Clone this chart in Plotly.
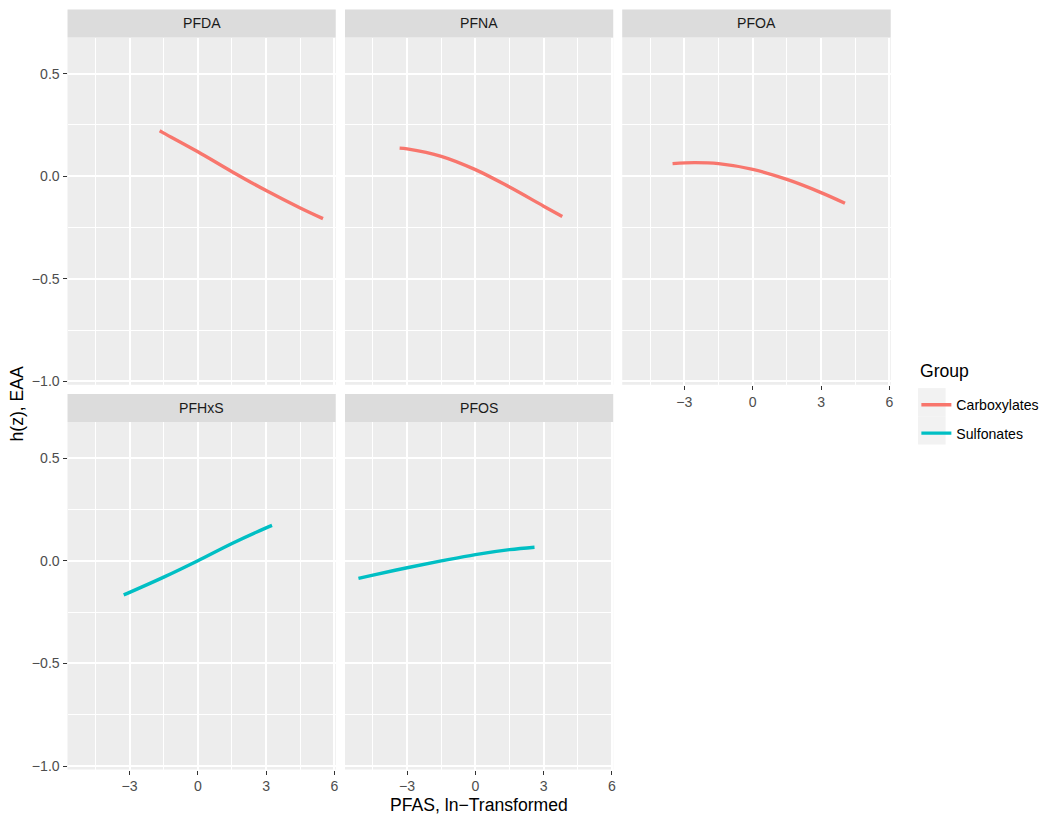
import plotly.graph_objects as go

# ---------------- data ----------------
panels = ["PFDA", "PFNA", "PFOA", "PFHxS", "PFOS"]
groups = ["Carboxylates", "Carboxylates", "Carboxylates", "Sulfonates", "Sulfonates"]

pfda_x = [-1.68, -1.5, 0.0, 1.5, 3.0, 4.5, 5.5]
pfda_y = [0.221, 0.210, 0.119, 0.022, -0.070, -0.155, -0.207]

pfna_x = [-3.33, -3.0, -1.5, 0.0, 1.5, 3.0, 3.82]
pfna_y = [0.137, 0.133, 0.097, 0.032, -0.053, -0.146, -0.196]

pfoa_x = [-3.52, -2.55, -1.5, 0.0, 1.5, 3.0, 4.05]
pfoa_y = [0.061, 0.066, 0.061, 0.033, -0.016, -0.080, -0.132]

pfhxs_x = [-3.26, -3.0, -1.5, 0.0, 1.5, 3.0, 3.26]
pfhxs_y = [-0.166, -0.154, -0.080, 0.0, 0.084, 0.160, 0.172]

pfos_x = [-5.14, -4.5, -3.0, -1.5, 0.0, 1.5, 2.6]
pfos_y = [-0.086, -0.070, -0.034, -0.001, 0.030, 0.054, 0.066]

series_x = [pfda_x, pfna_x, pfoa_x, pfhxs_x, pfos_x]
series_y = [pfda_y, pfna_y, pfoa_y, pfhxs_y, pfos_y]

x_ticks = [-3, 0, 3, 6]
x_minor = [-4.5, -1.5, 1.5, 4.5]
y_ticks = [-1.0, -0.5, 0.0, 0.5]
y_tick_labels = ["\u22121.0", "\u22120.5", "0.0", "0.5"]
x_tick_labels = ["\u22123", "0", "3", "6"]
y_minor = [-0.75, -0.25, 0.25]

colors = {"Carboxylates": "#F8766D", "Sulfonates": "#00BFC4"}

# ---------------- layout geometry (pixels) ----------------
W, H = 1050, 824
cols_px = [(67.7, 336.7), (346.0, 615.0), (624.0, 893.3)]
rows_px = [(37.7, 386.7), (424.0, 773.3)]     # plot area top/bottom
strips_px = [(9.5, 37.7), (396.0, 424.0)]
pos = [(0, 0), (0, 1), (0, 2), (1, 0), (1, 1)]
show_x = [False, False, True, True, True]
show_y = [True, False, False, True, False]

FONT = "Liberation Sans, Arial, sans-serif"
PANEL_BG = "#EDEDED"
STRIP_BG = "#DCDCDC"
SMALL = 14.1
BIG = 17.6

fig = go.Figure()
shapes = []
annotations = []
layout = {}

for i, name in enumerate(panels):
    r, c = pos[i]
    n = "" if i == 0 else str(i + 1)
    x0, x1 = cols_px[c]
    top, bot = rows_px[r]
    xdom = [x0 / W, x1 / W]
    ydom = [1 - bot / H, 1 - top / H]
    g = groups[i]
    first = g not in [groups[j] for j in range(i)]
    fig.add_trace(go.Scatter(
        x=series_x[i], y=series_y[i], mode="lines",
        line=dict(color=colors[g], width=3.4, shape="spline", smoothing=1.0),
        name=g, legendgroup=g, showlegend=first,
        xaxis="x" + n, yaxis="y" + n,
    ))
    layout["xaxis" + n] = dict(
        domain=xdom, range=[-5.73, 6.06], anchor="y" + n,
        tickmode="array", tickvals=x_ticks, ticktext=x_tick_labels,
        showticklabels=show_x[i], ticks="outside" if show_x[i] else "",
        ticklen=4, tickwidth=1.1, tickcolor="#333333",
        tickfont=dict(family=FONT, size=SMALL, color="#4D4D4D"),
        showgrid=True, gridcolor="white", gridwidth=1.8,
        minor=dict(tickvals=x_minor, showgrid=True, gridcolor="white", gridwidth=0.9, ticks=""),
        zeroline=False, showline=False, fixedrange=True,
    )
    layout["yaxis" + n] = dict(
        domain=ydom, range=[-1.017, 0.676], anchor="x" + n,
        tickmode="array", tickvals=y_ticks, ticktext=y_tick_labels,
        showticklabels=show_y[i], ticks="outside" if show_y[i] else "",
        ticklen=4, tickwidth=1.1, tickcolor="#333333",
        tickfont=dict(family=FONT, size=SMALL, color="#4D4D4D"),
        showgrid=True, gridcolor="white", gridwidth=1.8,
        minor=dict(tickvals=y_minor, showgrid=True, gridcolor="white", gridwidth=0.9, ticks=""),
        zeroline=False, showline=False, fixedrange=True,
    )
    # panel background
    shapes.append(dict(type="rect", xref="paper", yref="paper", layer="below",
                       x0=xdom[0], x1=xdom[1], y0=ydom[0], y1=ydom[1],
                       fillcolor=PANEL_BG, line=dict(width=0)))
    # strip
    s_top, s_bot = strips_px[r]
    shapes.append(dict(type="rect", xref="paper", yref="paper",
                       x0=xdom[0], x1=xdom[1], y0=1 - s_bot / H, y1=1 - s_top / H,
                       fillcolor=STRIP_BG, line=dict(width=0)))
    annotations.append(dict(text=name, xref="paper", yref="paper",
                            x=(xdom[0] + xdom[1]) / 2, y=1 - (s_top + s_bot) / 2 / H,
                            xanchor="center", yanchor="middle", showarrow=False,
                            font=dict(family=FONT, size=SMALL, color="#1A1A1A")))

# axis titles
annotations.append(dict(text="PFAS, ln\u2212Transformed", xref="paper", yref="paper",
                        x=(67.7 + 893.3) / 2 / W, y=1 - 808.5 / H, xanchor="center", yanchor="middle",
                        showarrow=False, font=dict(family=FONT, size=BIG, color="black")))
annotations.append(dict(text="h(z), EAA", xref="paper", yref="paper", textangle=-90,
                        x=17 / W, y=1 - 405.5 / H, xanchor="center", yanchor="middle",
                        showarrow=False, font=dict(family=FONT, size=BIG, color="black")))
# legend title
annotations.append(dict(text="Group", xref="paper", yref="paper",
                        x=920.5 / W, y=1 - 373.3 / H, xanchor="left", yanchor="middle",
                        showarrow=False, font=dict(family=FONT, size=BIG, color="black")))

# legend key backgrounds
for kt, kb in [(390, 418.3), (418.3, 446.7)]:
    shapes.append(dict(type="rect", xref="paper", yref="paper", layer="below",
                       x0=920.7 / W, x1=948.3 / W, y0=1 - kb / H, y1=1 - kt / H,
                       fillcolor="#F2F2F2", line=dict(width=0)))

fig.update_layout(
    width=W, height=H,
    margin=dict(l=0, r=0, t=0, b=0),
    paper_bgcolor="white", plot_bgcolor="rgba(0,0,0,0)",
    shapes=shapes, annotations=annotations,
    showlegend=True,
    legend=dict(
        x=919 / W, y=1 - 391 / H, xanchor="left", yanchor="top",
        font=dict(family=FONT, size=SMALL, color="black"),
        bgcolor="rgba(0,0,0,0)", tracegroupgap=7, itemwidth=30,
    ),
    **layout,
)

fig.write_html("out.html", config={"displayModeBar": False},
               post_script="document.body.style.margin='0';document.body.style.padding='0';")
